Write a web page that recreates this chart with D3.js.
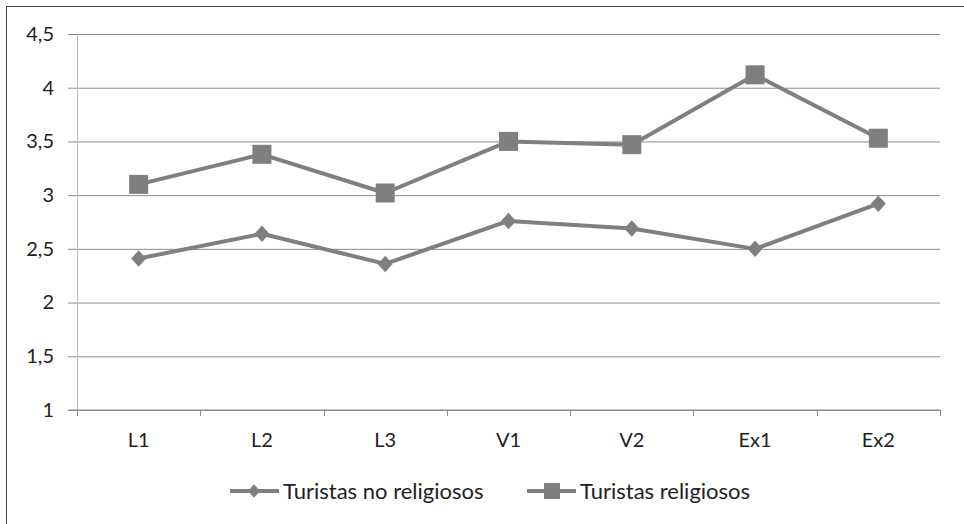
<!DOCTYPE html>
<html>
<head>
<meta charset="utf-8">
<script src="https://cdn.jsdelivr.net/npm/d3@7"></script>
<style>
  body { margin: 0; background: #fff; }
  text { font-family: Lato, "Open Sans", sans-serif; fill: #222; }
</style>
</head>
<body>
<svg width="964" height="524"></svg>
<script>
const categories = ["L1", "L2", "L3", "V1", "V2", "Ex1", "Ex2"];
const noReligiosos = [2.41, 2.64, 2.36, 2.76, 2.69, 2.50, 2.92];
const religiosos = [3.10, 3.38, 3.02, 3.50, 3.47, 4.12, 3.53];
const yTicks = [1, 1.5, 2, 2.5, 3, 3.5, 4, 4.5];
const seriesNames = ["Turistas no religiosos", "Turistas religiosos"];

const svg = d3.select("svg");
const width = +svg.attr("width");
const height = +svg.attr("height");

// outer frame (right/bottom edges fall outside the picture)
svg.append("rect")
  .attr("x", 6.5).attr("y", 6.5)
  .attr("width", width).attr("height", height)
  .attr("fill", "none").attr("stroke", "#444").attr("stroke-width", 1);

const mLeft = 77, mRight = 940, mTop = 34, mBottom = 410;

const x = d3.scaleBand().domain(categories).range([mLeft, mRight]);
const y = d3.scaleLinear().domain([1, 4.5]).range([mBottom, mTop]);

// gridlines + y labels
const yAxis = d3.axisLeft(y).tickValues(yTicks)
  .tickSize(-(mRight - mLeft) - 9).tickPadding(14)
  .tickFormat(d => String(d).replace(".", ","));
svg.append("g")
  .attr("transform", `translate(${mLeft - 9},0)`)
  .call(yAxis)
  .call(g => g.select(".domain").remove())
  .call(g => g.selectAll(".tick line").attr("stroke", "#8c8c8c").attr("stroke-width", 1))
  .call(g => g.selectAll(".tick text").attr("font-size", 20).attr("font-family", "Lato").style("fill", "#222"));

// y axis line
svg.append("line")
  .attr("x1", mLeft + 0.5).attr("x2", mLeft + 0.5)
  .attr("y1", mTop).attr("y2", mBottom)
  .attr("stroke", "#bdbdbd").attr("stroke-width", 1);

// x axis with ticks between categories
const xAxisG = svg.append("g").attr("transform", `translate(0,${mBottom})`);
xAxisG.append("line")
  .attr("x1", mLeft - 9).attr("x2", mRight)
  .attr("stroke", "#8c8c8c");
const bounds = categories.map(c => x(c)).concat([mRight]);
xAxisG.selectAll("line.tk").data(bounds).enter().append("line")
  .attr("class", "tk")
  .attr("x1", d => Math.round(d) + 0.5).attr("x2", d => Math.round(d) + 0.5)
  .attr("y1", 0).attr("y2", 6)
  .attr("stroke", "#8c8c8c");
xAxisG.selectAll("text").data(categories).enter().append("text")
  .attr("x", d => x(d) + x.bandwidth() / 2)
  .attr("y", 37)
  .attr("text-anchor", "middle")
  .attr("font-size", 20)
  .text(d => d);

const cx = c => x(c) + x.bandwidth() / 2;
const line = d3.line().x((d, i) => cx(categories[i])).y(d => y(d));
const col = "#7f7f7f";

svg.append("path").datum(noReligiosos)
  .attr("d", line).attr("fill", "none")
  .attr("stroke", col).attr("stroke-width", 4).attr("stroke-linejoin", "round");
svg.append("path").datum(religiosos)
  .attr("d", line).attr("fill", "none")
  .attr("stroke", col).attr("stroke-width", 4).attr("stroke-linejoin", "round");

svg.selectAll("path.dia").data(noReligiosos).enter().append("path")
  .attr("class", "dia")
  .attr("transform", (d, i) => `translate(${cx(categories[i])},${y(d)}) scale(1,1.1) rotate(45)`)
  .attr("d", d3.symbol().type(d3.symbolSquare).size(112))
  .attr("fill", col);
svg.selectAll("rect.sq").data(religiosos).enter().append("rect")
  .attr("class", "sq")
  .attr("x", (d, i) => cx(categories[i]) - 9.5)
  .attr("y", d => y(d) - 9.5)
  .attr("width", 19).attr("height", 19)
  .attr("fill", col);

// legend
const leg = svg.append("g").attr("transform", "translate(0,491)");
const items = [
  { name: seriesNames[0], x0: 230, type: "dia" },
  { name: seriesNames[1], x0: 527, type: "sq" }
];
items.forEach(it => {
  leg.append("line").attr("x1", it.x0).attr("x2", it.x0 + 49)
    .attr("y1", 0).attr("y2", 0).attr("stroke", col).attr("stroke-width", 4);
  if (it.type === "dia") {
    leg.append("path")
      .attr("transform", `translate(${it.x0 + 24},0) scale(1,1.1) rotate(45)`)
      .attr("d", d3.symbol().type(d3.symbolSquare).size(75))
      .attr("fill", col);
  } else {
    leg.append("rect").attr("x", it.x0 + 17).attr("y", -8)
      .attr("width", 16).attr("height", 16).attr("fill", col);
  }
  leg.append("text").attr("x", it.x0 + 53).attr("y", 8)
    .attr("font-size", 22).text(it.name);
});
</script>
</body>
</html>
